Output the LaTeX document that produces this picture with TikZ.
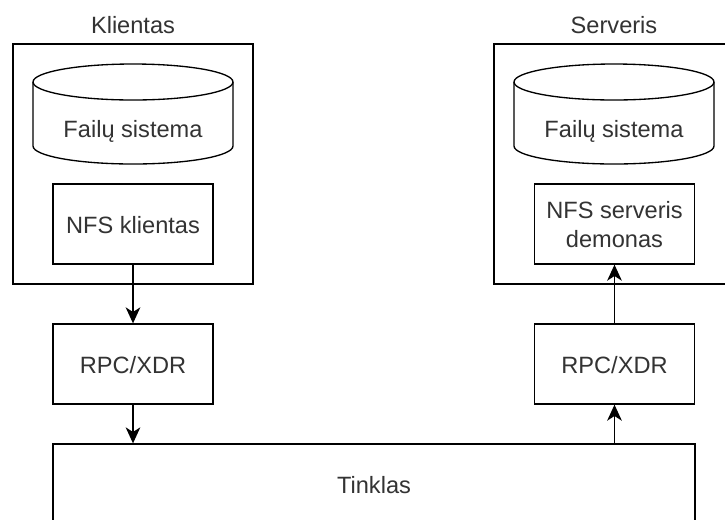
\documentclass[tikz,border=0pt]{standalone}
\usepackage{fontspec}
\setmainfont{Liberation Sans}
\usetikzlibrary{arrows.meta}
\definecolor{txt}{HTML}{333333}
\tikzset{
  lbl/.style={text=txt, inner sep=0pt, anchor=base, font=\fontsize{17.7}{21.75}\selectfont, align=center},
  boxshape/.style={draw=black, line width=1pt},
  conn/.style={draw=black, line width=1pt, -{Stealth[length=12pt,width=11pt,inset=3.5pt]}},
}
\begin{document}
\begin{tikzpicture}[x=0.75pt,y=-0.75pt]
\clip (0,0) rectangle (725,519);
\fill[white] (0,0) rectangle (725,519);

% outer boxes
\draw[boxshape] (13,44) rectangle (253,284);
\draw[boxshape] (494,44) rectangle (734,284);
\node[lbl] (klab) at (133,33) {Klientas};
\node[lbl] (slab) at (614,33) {Serveris};

% cylinders
\foreach \cx in {133,614}{
  \draw[boxshape] (\cx-100,82) -- (\cx-100,146) arc[start angle=180,end angle=0,x radius=100,y radius=18] -- (\cx+100,82);
  \draw[boxshape] (\cx,82) ellipse[x radius=100, y radius=18];
}
\node[lbl] (kfs) at (133,137) {Failų sistema};
\node[lbl] (sfs) at (614,137) {Failų sistema};

% NFS boxes
\node[boxshape, minimum width=120pt, minimum height=60pt, inner sep=0pt] (nfsk) at (133,224) {};
\node[lbl] at (133,233) {NFS klientas};
\node[boxshape, minimum width=120pt, minimum height=60pt, inner sep=0pt] (nfss) at (614.5,224) {};
\node[lbl] at (614.5,218) {NFS serveris};
\node[lbl] at (614.5,247) {demonas};

% RPC boxes
\node[boxshape, minimum width=120pt, minimum height=60pt, inner sep=0pt] (rpck) at (133,364) {};
\node[lbl] at (133,373) {RPC/XDR};
\node[boxshape, minimum width=120pt, minimum height=60pt, inner sep=0pt] (rpcs) at (614.5,364) {};
\node[lbl] at (614.5,373) {RPC/XDR};

% network
\node[boxshape, minimum width=481.5pt, minimum height=60pt, inner sep=0pt] (net) at (374,484) {};
\node[lbl] at (374,493) {Tinklas};

% connectors
\draw[conn] (nfsk.south) -- (rpck.north);
\draw[conn] (rpck.south) -- (rpck.south |- net.north);
\draw[conn] (rpcs.south |- net.north) -- (rpcs.south);
\draw[conn] (rpcs.north) -- (nfss.south);
\end{tikzpicture}
\end{document}
